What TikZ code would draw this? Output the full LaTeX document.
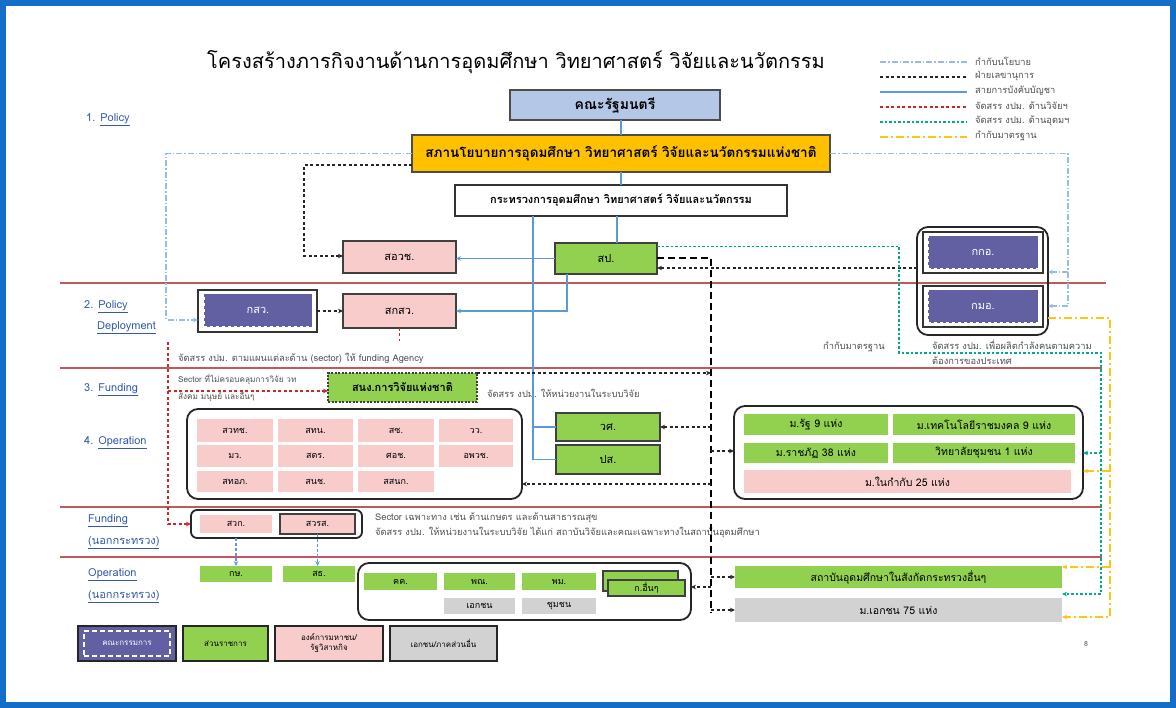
\documentclass[tikz,border=0pt]{standalone}
\usepackage{fontspec}
\setmainfont{Loma}[Script=Thai]
\usetikzlibrary{arrows.meta}
\definecolor{frameblue}{RGB}{20,110,200}
\definecolor{pinkc}{RGB}{249,204,204}
\definecolor{greenc}{RGB}{146,208,80}
\definecolor{purplec}{RGB}{98,96,162}
\definecolor{grayc}{RGB}{210,210,210}
\definecolor{cabblue}{RGB}{180,199,231}
\definecolor{orangec}{RGB}{255,192,0}
\definecolor{sepred}{RGB}{192,90,90}
\definecolor{labelblue}{RGB}{50,90,175}
\definecolor{hierblue}{RGB}{91,155,213}
\definecolor{policyblue}{RGB}{150,190,228}
\definecolor{resred}{RGB}{200,40,40}
\definecolor{tealc}{RGB}{0,170,140}
\definecolor{yellowc}{RGB}{255,196,20}
\definecolor{notegray}{RGB}{80,80,80}
\newcommand\bx[7]{%
  \pgfmathsetmacro\bxcx{(#3+#5)/2}\pgfmathsetmacro\bxcy{(#4+#6)/2}%
  \pgfmathsetmacro\bxww{#5-#3}\pgfmathsetmacro\bxhh{#6-#4}%
  \node[#2,minimum width=\bxww pt,minimum height=\bxhh pt,inner sep=0pt,outer sep=0pt] (#1) at (\bxcx,\bxcy) {#7};}
\tikzset{
  pinkbox/.style={fill=pinkc,draw=black!75,line width=1.2pt,font=\fontsize{11}{13}\selectfont},
  greenbox/.style={fill=greenc,draw=black!75,line width=1.2pt,font=\fontsize{11}{13}\selectfont},
  greendash/.style={fill=greenc,draw=black!75,line width=1.2pt,dash pattern=on 2pt off 1.5pt,font=\fontsize{11}{13}\selectfont},
  cabbox/.style={fill=cabblue,draw=black!70,line width=1.2pt},
  orgbox/.style={fill=orangec,draw=black!70,line width=1.2pt},
  whitebox/.style={fill=white,draw=black!80,line width=1.2pt},
  outerw/.style={fill=white,draw=black!80,line width=1.2pt},
  purplebox/.style={fill=purplec,draw=white,dashed,line width=1pt,text=white,font=\fontsize{11}{13}\selectfont},
  grpbox/.style={draw=black!85,line width=1.8pt,rounded corners=11pt},
  cellpink/.style={fill=pinkc,font=\fontsize{9}{11}\selectfont},
  cellgreen/.style={fill=greenc,font=\fontsize{9}{11}\selectfont},
  cellgray/.style={fill=grayc,font=\fontsize{9}{11}\selectfont},
  bigcell/.style={font=\fontsize{10.5}{12}\selectfont},
  lgbox/.style={line width=1.8pt,draw=black!85,font=\fontsize{8}{10}\selectfont,align=center},
  sideLabel/.style={text=labelblue,font=\fontsize{11}{13}\selectfont,anchor=west,inner sep=0pt},
  note/.style={text=notegray,font=\fontsize{9.3}{11}\selectfont,anchor=west,inner sep=0pt,align=left},
  hier/.style={draw=hierblue,line width=1.2pt},
  hierd/.style={draw=hierblue,line width=1.1pt,dash pattern=on 3pt off 2pt},
  policy/.style={draw=policyblue,line width=1.2pt,dash pattern=on 6pt off 2pt on 1.5pt off 2pt},
  secr/.style={draw=black!85,line width=1.1pt,dash pattern=on 3pt off 2.5pt},
  secthick/.style={draw=black,line width=2pt,dash pattern=on 7pt off 4pt},
  res/.style={draw=resred,line width=1.1pt,dash pattern=on 3pt off 2.5pt},
  hed/.style={draw=tealc,line width=1.1pt,dash pattern=on 2.5pt off 2pt},
  stdl/.style={draw=yellowc,line width=1.8pt,dash pattern=on 8pt off 3pt on 2pt off 3pt},
}
\begin{document}
\begin{tikzpicture}[x=1pt,y=-1pt,>={Stealth[length=5pt,width=4.5pt]}]
\useasboundingbox (0,0) rectangle (1176,708);
\fill[white] (0,0) rectangle (1176,708);
\draw[frameblue,line width=6pt] (3,3) rectangle (1173,705);

% title
\node (title) at (516,62) {\fontsize{20}{23}\selectfont โครงสร้างภารกิจงานด้านการอุดมศึกษา วิทยาศาสตร์ วิจัยและนวัตกรรม};

% separators
\draw[sepred,line width=1.2pt] (60,283) -- (1106,283);
\draw[sepred,line width=1.2pt] (60,368) -- (1102,368);
\draw[sepred,line width=1.2pt] (60,507) -- (1102,507);
\draw[sepred,line width=1.2pt] (60,557) -- (1102,557);

% side labels
\node[sideLabel] (l1) at (86,120) {1. \underline{Policy}};
\node[sideLabel] (l2) at (84,307) {2. \underline{Policy}};
\node[sideLabel] (l2b) at (97,328) {\underline{Deployment}};
\node[sideLabel] (l3) at (84,390) {3. \underline{Funding}};
\node[sideLabel] (l4) at (84,443) {4. \underline{Operation}};
\node[sideLabel] (l5) at (88,521) {\underline{Funding}};
\node[sideLabel] (l5b) at (88,543) {\underline{(นอกกระทรวง)}};
\node[sideLabel] (l6) at (88,575) {\underline{Operation}};
\node[sideLabel] (l6b) at (88,597) {\underline{(นอกกระทรวง)}};

% top boxes
\bx{cab}{cabbox}{510}{90}{720}{120}{\bfseries\fontsize{14}{16}\selectfont คณะรัฐมนตรี}
\bx{council}{orgbox}{412}{135}{830}{172}{\bfseries\fontsize{13.5}{16}\selectfont สภานโยบายการอุดมศึกษา วิทยาศาสตร์ วิจัยและนวัตกรรมแห่งชาติ}
\bx{mhesi}{whitebox}{455}{185}{787}{216}{\bfseries\fontsize{11}{13}\selectfont กระทรวงการอุดมศึกษา วิทยาศาสตร์ วิจัยและนวัตกรรม}

\bx{soch}{pinkbox}{343}{241}{456}{273}{สอวช.}
\bx{sp}{greenbox}{555}{243}{657}{274}{สป.}
\bx{skso}{pinkbox}{343}{294}{456}{328}{สกสว.}
\bx{kswo}{outerw}{198}{290}{317}{332}{}
\bx{ksw}{purplebox}{204}{294}{312}{327}{กสว.}

\bx{kkgrp}{grpbox}{917}{227}{1048}{335}{}
\bx{kkoo}{outerw}{923}{232}{1043}{273}{}
\bx{kko}{purplebox}{928}{236}{1038}{269}{กกอ.}
\bx{kmoo}{outerw}{923}{286}{1043}{327}{}
\bx{kmo}{purplebox}{928}{290}{1038}{323}{กมอ.}

\bx{snrf}{greendash}{328}{373}{477}{402}{\bfseries สนง.การวิจัยแห่งชาติ}
\bx{ws}{greenbox}{556}{413}{660}{441}{วศ.}
\bx{ps}{greenbox}{556}{445}{660}{474}{ปส.}

% left operation group
\bx{opL}{grpbox}{187}{409}{522}{499}{}
\bx{c11}{cellpink}{197}{419}{273}{442}{สวทช.}
\bx{c12}{cellpink}{278}{419}{353}{442}{สทน.}
\bx{c13}{cellpink}{358}{419}{434}{442}{สซ.}
\bx{c14}{cellpink}{439}{419}{513}{442}{วว.}
\bx{c21}{cellpink}{197}{445}{273}{467}{มว.}
\bx{c22}{cellpink}{278}{445}{353}{467}{สดร.}
\bx{c23}{cellpink}{358}{445}{434}{467}{ศอช.}
\bx{c24}{cellpink}{439}{445}{513}{467}{อพวช.}
\bx{c31}{cellpink}{197}{471}{273}{492}{สทอภ.}
\bx{c32}{cellpink}{278}{471}{353}{492}{สนช.}
\bx{c33}{cellpink}{358}{471}{434}{492}{สสนก.}

% right operation group
\bx{opR}{grpbox}{734}{406}{1083}{499}{}
\bx{u1}{cellgreen,bigcell}{744}{414}{888}{435}{ม.รัฐ 9 แห่ง}
\bx{u2}{cellgreen,bigcell}{893}{414}{1075}{435}{ม.เทคโนโลยีราชมงคล 9 แห่ง}
\bx{u3}{cellgreen,bigcell}{744}{443}{888}{463}{ม.ราชภัฏ 38 แห่ง}
\bx{u4}{cellgreen,bigcell}{893}{443}{1075}{463}{วิทยาลัยชุมชน 1 แห่ง}
\bx{u5}{cellpink,bigcell}{744}{470}{1071}{493}{ม.ในกำกับ 25 แห่ง}

% funding outside
\bx{fundO}{grpbox,rounded corners=6pt}{191}{510}{362}{538}{}
\bx{swk}{cellpink}{200}{515}{272}{533}{สวก.}
\bx{swrs}{pinkbox,font=\fontsize{9}{11}\selectfont}{280}{514}{355}{534}{สวรส.}

% operation outside
\bx{ks}{cellgreen}{200}{566}{272}{582}{กษ.}
\bx{st}{cellgreen}{283}{566}{355}{582}{สธ.}
\bx{opO}{grpbox}{358}{563}{691}{620}{}
\bx{kk}{cellgreen}{364}{573}{437}{590}{คค.}
\bx{pn}{cellgreen}{444}{573}{515}{590}{พณ.}
\bx{pm}{cellgreen}{522}{573}{596}{590}{พม.}
\bx{ko2}{greenbox}{603}{571}{678}{591}{}
\bx{ko}{greenbox,font=\fontsize{9}{11}\selectfont}{608}{580}{685}{596}{ก.อื่นๆ}
\bx{pv}{cellgray}{444}{598}{515}{614}{เอกชน}
\bx{cm}{cellgray}{522}{598}{596}{614}{ชุมชน}
\bx{hei}{cellgreen,bigcell}{735}{566}{1062}{588}{สถาบันอุดมศึกษาในสังกัดกระทรวงอื่นๆ}
\bx{pu}{cellgray,bigcell}{735}{598}{1062}{622}{ม.เอกชน 75 แห่ง}

% bottom legend
\bx{lg1}{lgbox,fill=purplec}{78}{626}{176}{661}{}
\bx{lg1i}{draw=white,line width=1.2pt,dash pattern=on 5pt off 3pt,text=white,font=\fontsize{8}{10}\selectfont}{84}{631}{170}{656}{คณะกรรมการ}
\bx{lg2}{lgbox,fill=greenc}{183}{626}{268}{661}{ส่วนราชการ}
\bx{lg3}{lgbox,fill=pinkc}{275}{626}{383}{661}{องค์การมหาชน/\\รัฐวิสาหกิจ}
\bx{lg4}{lgbox,fill=grayc}{390}{626}{497}{661}{เอกชน/ภาคส่วนอื่น}
\node[text=notegray,font=\fontsize{7}{8}\selectfont] (pg) at (1086,644) {8};

% top-right legend
\foreach \yy/\st/\tx in {62/policy/กำกับนโยบาย,77/secr/ฝ่ายเลขานุการ,92/hier/สายการบังคับบัญชา,107/res/จัดสรร งปม. ด้านวิจัยฯ,122/hed/จัดสรร งปม. ด้านอุดมฯ,137/stdl/กำกับมาตรฐาน}{
  \coordinate (la\yy) at (880,\yy);
  \coordinate (lb\yy) at (967,\yy);
  \draw[\st] (la\yy) -- (lb\yy);
  \node[note] (lt\yy) at (975,\yy-1) {\tx};
}

% notes
\node[note] (n1) at (178,358) {จัดสรร งปม. ตามแผนแต่ละด้าน (sector) ให้ funding Agency};
\node[note,font=\fontsize{8.2}{9}\selectfont] (n2) at (178,379) {Sector ที่ไม่ครอบคลุมการวิจัย วท};
\node[note,font=\fontsize{8.2}{9}\selectfont] (n3) at (178,396) {สังคม มนุษย์ และอื่นๆ};
\node[note] (n4) at (487,393) {จัดสรร งปม. ให้หน่วยงานในระบบวิจัย};
\node[note] (n5) at (823,347) {กำกับมาตรฐาน};
\node[note] (n6) at (932,345) {จัดสรร งปม. เพื่อผลิตกำลังคนตามความ};
\node[note] (n7) at (932,361) {ต้องการของประเทศ};
\node[note] (n8) at (375,518) {Sector เฉพาะทาง เช่น ด้านเกษตร และด้านสาธารณสุข};
\node[note] (n9) at (375,533) {จัดสรร งปม. ให้หน่วยงานในระบบวิจัย ได้แก่ สถาบันวิจัยและคณะเฉพาะทางในสถาบันอุดมศึกษา};

% ---- connectors ----
\coordinate (hs) at (617,0);
\coordinate (hv) at (533,0);
\coordinate (hs2) at (567,0);
\draw[hier] (cab.south -| council.north) -- (council.north);
\draw[hier] (council.south) -- (council.south |- mhesi.north);
\draw[hier] (mhesi.south -| hs) -- (sp.north -| hs);
\draw[hier] (mhesi.south -| hv) |- (ps.west);
\draw[hier] (ws.west -| hv) -- (ws.west);
\draw[hier,->] (sp.west) -- (sp.west -| soch.east);
\draw[hier,->] (sp.south -| hs2) |- (skso.east);

% policy
\coordinate (pl) at (166,320);
\draw[policy,->] (council.west) -| (pl) -- (pl -| kswo.west);
\coordinate (pr) at (1068,306);
\coordinate (pr1) at (1068,272);
\draw[policy] (council.east) -| (pr);
\draw[policy,->] (pr) -- (pr -| kkgrp.east);
\draw[policy,->] (pr1) -- (pr1 -| kkgrp.east);

% secretary
\coordinate (sl) at (304,256);
\draw[secr,->] ([yshift=-11.5pt]council.west) -| (sl) -- (sl -| soch.west);
\draw[secr,->] (kswo.east) -- (kswo.east -| skso.west);
\coordinate (kq) at (917,268);
\draw[secr,->] (kq) -- (kq -| sp.east);
\coordinate (sv) at (711,612);
\draw[secthick] (sp.east) -| (sv);
\draw[secr,->] (snrf.north east) -- (snrf.north east -| sv);
\draw[secr,->] (ws.east -| sv) -- (ws.east);
\coordinate (s1) at (711,484);
\draw[secr,->] (s1) -- (s1 -| opL.east);
\coordinate (s2) at (711,451);
\draw[secr,->] (s2) -- (s2 -| opR.west);
\draw[secr,->] (hei.west -| sv) -- (hei.west);
\coordinate (s3) at (711,587);
\draw[secr,->] (s3) -- (s3 -| opO.east);
\draw[secr,->] (pu.west -| sv) -- (pu.west);

% research budget
\draw[res] (skso.south) -- ++(0,13);
\coordinate (rt) at (168,342);
\coordinate (rs) at (168,391);
\draw[res,->] (rt) |- (fundO.west);
\draw[res,->] (rs) -- (rs -| snrf.west);

% higher-ed budget
\coordinate (t1) at (899,353);
\coordinate (t2) at (1101,594);
\coordinate (t3) at (1101,453);
\draw[hed,->] ([yshift=12pt]sp.east) -| (t1) -| (t2) -- (t2 -| hei.east);
\draw[hed,->] (t3) -- (t3 -| opR.east);

% standards
\coordinate (y0) at (1048,318);
\coordinate (y1) at (1110,617);
\coordinate (y2) at (1110,471);
\coordinate (y3) at (1110,567);
\draw[stdl,->] (y0) -| (y1) -- (y1 -| pu.east);
\draw[stdl,->] (y2) -- (y2 -| opR.east);
\draw[stdl,->] (y3) -- (y3 -| hei.east);

% funding outside to operation outside
\draw[hierd,->] (swk.south |- fundO.south) -- (swk.south |- ks.north);
\draw[hierd,->] (swrs.south) -- (swrs.south |- st.north);
\end{tikzpicture}
\end{document}
